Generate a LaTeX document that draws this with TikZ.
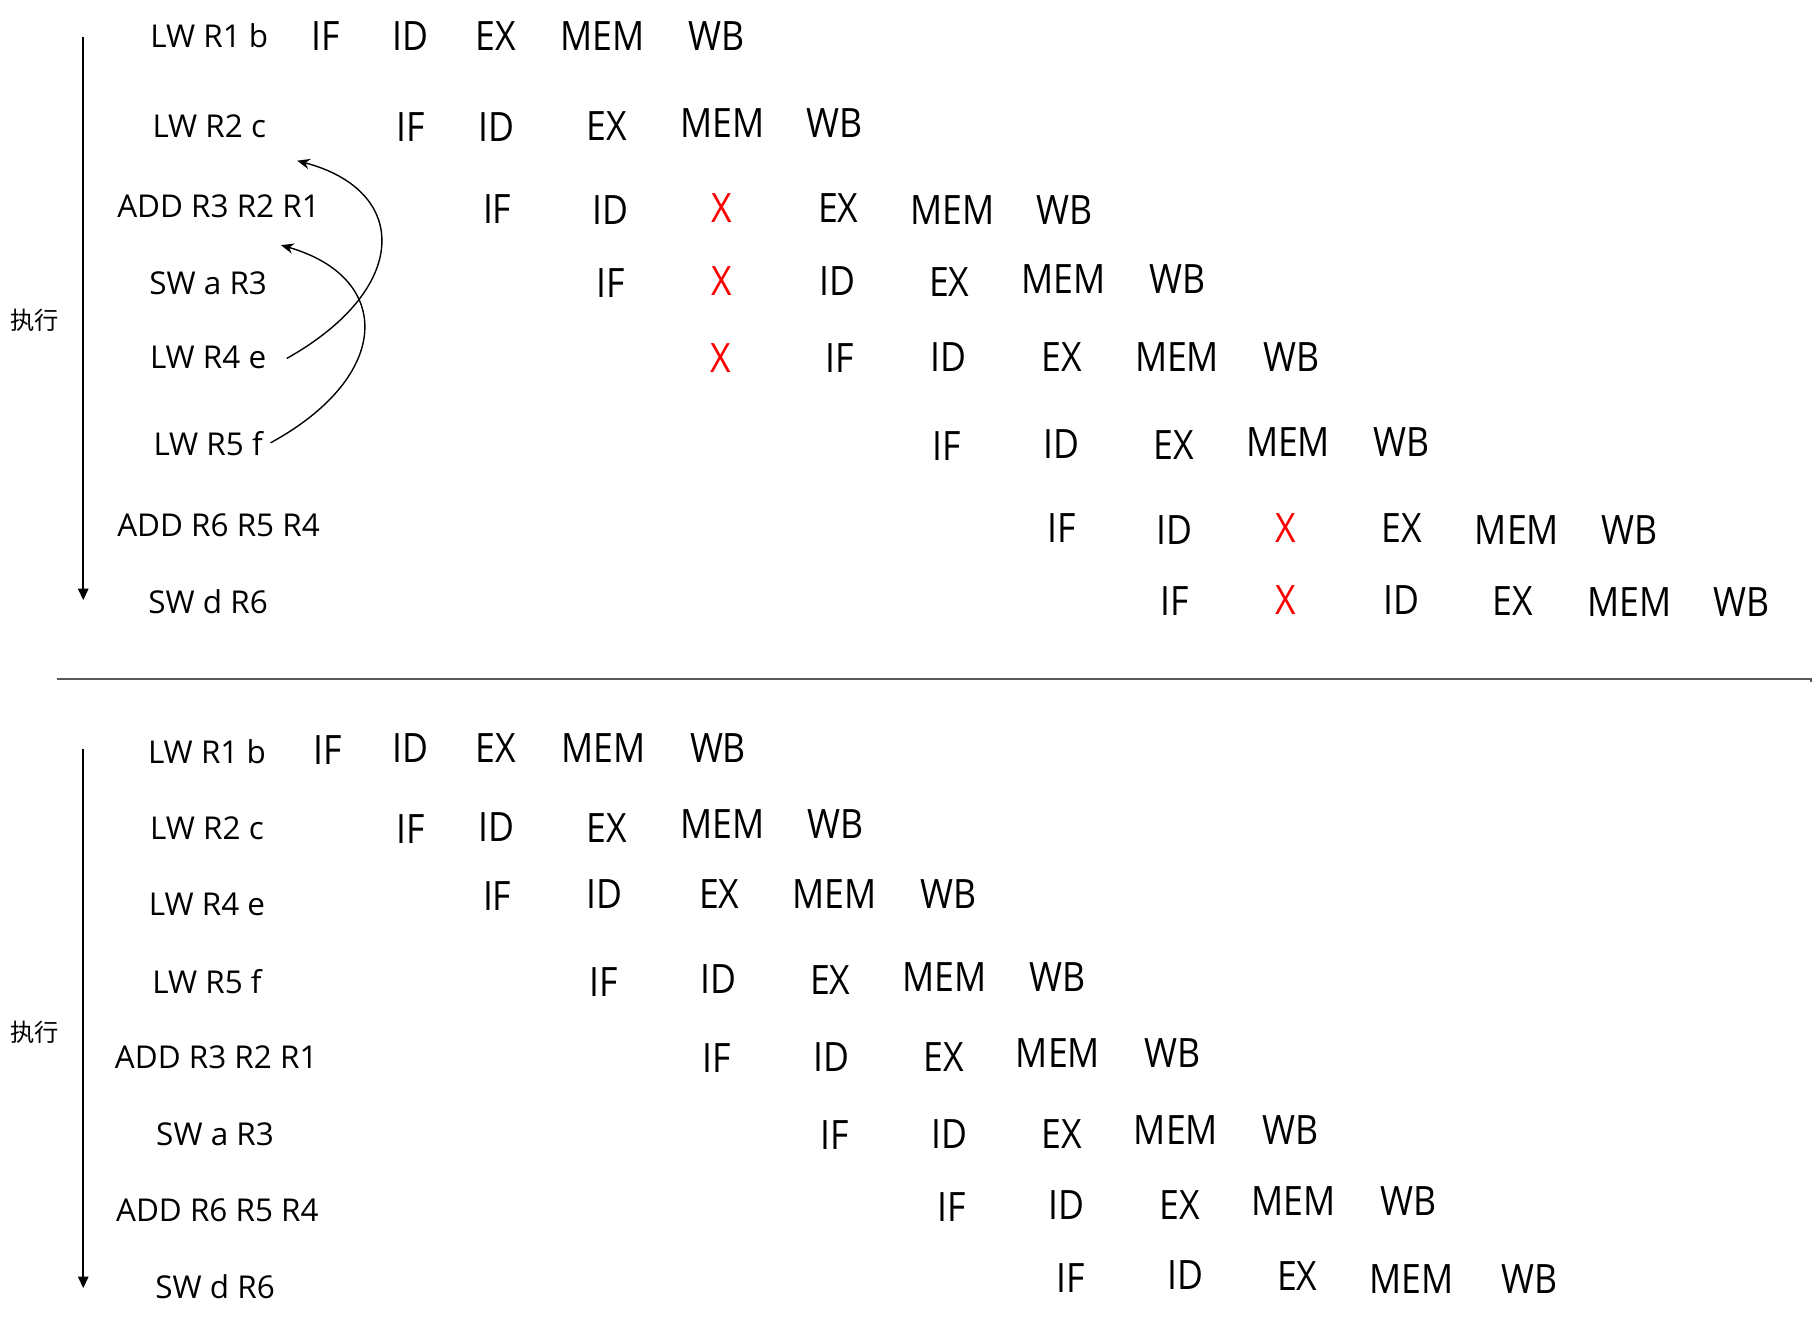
\documentclass[tikz,border=0pt]{standalone}
\usepackage{fontspec}
\setmainfont{Open Sans}
\newfontfamily\stagefont[FakeStretch=0.88]{Open Sans}
\newfontfamily\cjkfont{Noto Sans CJK SC}
\usetikzlibrary{arrows.meta}
\tikzset{
 lbl/.style={inner sep=0pt, font=\fontsize{13.6}{16}\selectfont},
 stg/.style={inner sep=0pt, font=\stagefont\fontsize{17.5}{20}\selectfont},
 cjklbl/.style={inner sep=0pt, font=\cjkfont\fontsize{10.5}{12}\selectfont},
 timeaxis/.style={line width=0.8pt, -{Triangle[length=5pt,width=4.5pt]}},
 dep/.style={line width=0.6pt, -{Stealth[length=5.5pt,width=4.5pt]}},
 sepline/.style={line width=0.8pt, draw=black!65},
}
\begin{document}
\begin{tikzpicture}[x=0.5pt,y=0.5pt]
\useasboundingbox (0,0) rectangle (1568,-1144);

% ---------------- top part ----------------
\coordinate (tt) at (72,-32);
\coordinate (tb) at (72,-519);
\draw[timeaxis] (tt) -- (tb);
\node[cjklbl] (tx) at (30,-277) {执行};

\node[lbl] (l1) at (181,-31) {LW R1 b};
\node[lbl] (l2) at (181,-109) {LW R2 c};
\node[lbl] (l3) at (189,-178) {ADD R3 R2 R1};
\node[lbl] (l4) at (180,-245) {SW a R3};
\node[lbl] (l5) at (180,-309) {LW R4 e};
\node[lbl] (l6) at (180,-384) {LW R5 f};
\node[lbl] (l7) at (189,-454) {ADD R6 R5 R4};
\node[lbl] (l8) at (180,-520) {SW d R6};

\foreach \x/\y/\t/\c [count=\i] in {282/31/IF/black,355/31/ID/black,429/31/EX/black,521/31/MEM/black,620/31/WB/black}
  \node[stg,text=\c] (a1\i) at (\x,-\y) {\t};
\foreach \x/\y/\t/\c [count=\i] in {355/110/IF/black,429/110/ID/black,525/109/EX/black,625/106/MEM/black,722/106/WB/black}
  \node[stg,text=\c] (a2\i) at (\x,-\y) {\t};
\foreach \x/\y/\t/\c [count=\i] in {430/181/IF/black,528/182/ID/black,624/180/X/red,725/180/EX/black,824/182/MEM/black,921/182/WB/black}
  \node[stg,text=\c] (a3\i) at (\x,-\y) {\t};
\foreach \x/\y/\t/\c [count=\i] in {528/245/IF/black,624/243/X/red,724/243/ID/black,821/244/EX/black,920/241/MEM/black,1018/241/WB/black}
  \node[stg,text=\c] (a4\i) at (\x,-\y) {\t};
\foreach \x/\y/\t/\c [count=\i] in {623/310/X/red,726/310/IF/black,820/309/ID/black,918/309/EX/black,1018/309/MEM/black,1117/309/WB/black}
  \node[stg,text=\c] (a5\i) at (\x,-\y) {\t};
\foreach \x/\y/\t/\c [count=\i] in {819/386/IF/black,918/384/ID/black,1015/385/EX/black,1114/382/MEM/black,1212/382/WB/black}
  \node[stg,text=\c] (a6\i) at (\x,-\y) {\t};
\foreach \x/\y/\t/\c [count=\i] in {918/457/IF/black,1016/458/ID/black,1112/457/X/red,1212/457/EX/black,1312/458/MEM/black,1409/458/WB/black}
  \node[stg,text=\c] (a7\i) at (\x,-\y) {\t};
\foreach \x/\y/\t/\c [count=\i] in {1016/520/IF/black,1112/519/X/red,1212/519/ID/black,1308/520/EX/black,1409/521/MEM/black,1506/521/WB/black}
  \node[stg,text=\c] (a8\i) at (\x,-\y) {\t};

% dependency arrows
\coordinate (d1s) at (248,-310);
\coordinate (d1e) at (257,-139);
\coordinate (d2s) at (234,-383);
\coordinate (d2e) at (243,-212);
\draw[dep] (d1s) .. controls (355,-250) and (355,-165) .. (d1e);
\draw[dep] (d2s) .. controls (340,-325) and (340,-240) .. (d2e);

% separator
\coordinate (sl) at (49,-587);
\coordinate (sr) at (1566,-587);
\draw[sepline] (sl) -- (sr) -- ++(0,-3);

% ---------------- bottom part ----------------
\coordinate (bt) at (72,-648);
\coordinate (bb) at (72,-1114);
\draw[timeaxis] (bt) -- (bb);
\node[cjklbl] (bx) at (30,-893) {执行};

\node[lbl] (m1) at (179,-650) {LW R1 b};
\node[lbl] (m2) at (179,-716) {LW R2 c};
\node[lbl] (m3) at (179,-782) {LW R4 e};
\node[lbl] (m4) at (179,-849) {LW R5 f};
\node[lbl] (m5) at (187,-914) {ADD R3 R2 R1};
\node[lbl] (m6) at (186,-981) {SW a R3};
\node[lbl] (m7) at (188,-1047) {ADD R6 R5 R4};
\node[lbl] (m8) at (186,-1113) {SW d R6};

\foreach \x/\y/\t [count=\i] in {283/649/IF,355/647/ID,429/647/EX,522/647/MEM,621/647/WB}
  \node[stg] (b1\i) at (\x,-\y) {\t};
\foreach \x/\y/\t [count=\i] in {355/717/IF,429/715/ID,525/716/EX,625/713/MEM,723/713/WB}
  \node[stg] (b2\i) at (\x,-\y) {\t};
\foreach \x/\y/\t [count=\i] in {430/775/IF,523/773/ID,622/773/EX,722/773/MEM,820/773/WB}
  \node[stg] (b3\i) at (\x,-\y) {\t};
\foreach \x/\y/\t [count=\i] in {522/849/IF,621/847/ID,718/848/EX,817/845/MEM,915/845/WB}
  \node[stg] (b4\i) at (\x,-\y) {\t};
\foreach \x/\y/\t [count=\i] in {620/915/IF,719/914/ID,816/914/EX,915/911/MEM,1014/911/WB}
  \node[stg] (b5\i) at (\x,-\y) {\t};
\foreach \x/\y/\t [count=\i] in {722/982/IF,821/981/ID,918/981/EX,1017/977/MEM,1116/977/WB}
  \node[stg] (b6\i) at (\x,-\y) {\t};
\foreach \x/\y/\t [count=\i] in {823/1044/IF,922/1042/ID,1020/1042/EX,1119/1039/MEM,1218/1039/WB}
  \node[stg] (b7\i) at (\x,-\y) {\t};
\foreach \x/\y/\t [count=\i] in {926/1105/IF,1025/1103/ID,1122/1104/EX,1221/1106/MEM,1323/1106/WB}
  \node[stg] (b8\i) at (\x,-\y) {\t};
\end{tikzpicture}
\end{document}
